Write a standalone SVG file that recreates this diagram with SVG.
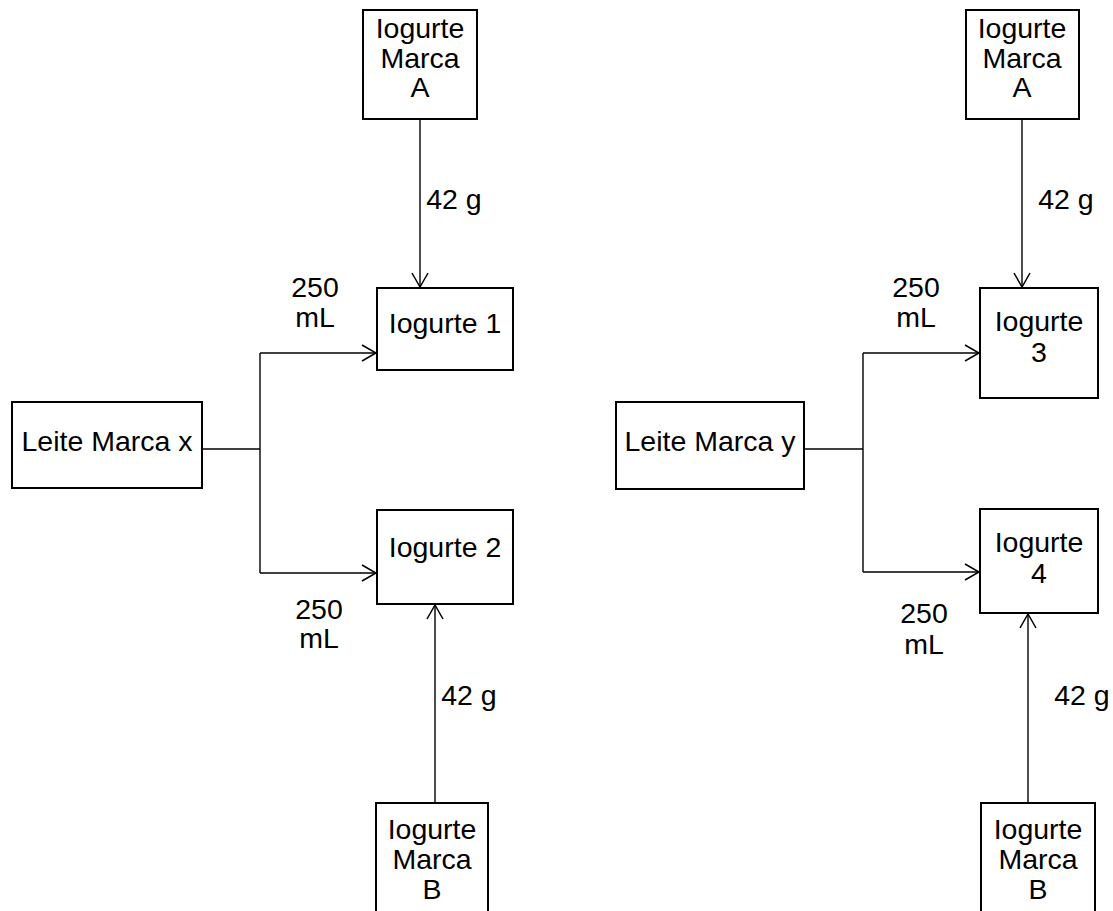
<svg xmlns="http://www.w3.org/2000/svg" width="1113" height="911" viewBox="0 0 1113 911">
<style>
.box{fill:#fff;stroke:#000;stroke-width:2}
.ln{fill:none;stroke:#000;stroke-width:1.4}
text{font-family:"Liberation Sans",Arial,sans-serif;font-size:28.5px;fill:#000;text-anchor:middle}
</style>
<defs>
<marker id="ah" markerUnits="userSpaceOnUse" markerWidth="20" markerHeight="20" viewBox="-16 -10 20 20" refX="0" refY="0" orient="auto">
<path d="M-14,-8 L0,0 L-14,8" fill="none" stroke="#000" stroke-width="1.5"/>
</marker>
</defs>
<rect width="1113" height="911" fill="#fff"/>
<g id="connectors">
<path class="ln" d="M420,119 V287" marker-end="url(#ah)"/>
<path class="ln" d="M202,449 H260"/>
<path class="ln" d="M260,353 V573"/>
<path class="ln" d="M260,353 H376" marker-end="url(#ah)"/>
<path class="ln" d="M260,573 H376" marker-end="url(#ah)"/>
<path class="ln" d="M435,803 V605" marker-end="url(#ah)"/>
<path class="ln" d="M1022,119 V287" marker-end="url(#ah)"/>
<path class="ln" d="M804,449 H863"/>
<path class="ln" d="M863,353 V572"/>
<path class="ln" d="M863,353 H979" marker-end="url(#ah)"/>
<path class="ln" d="M863,572 H979" marker-end="url(#ah)"/>
<path class="ln" d="M1028,803 V614" marker-end="url(#ah)"/>
<text x="454" y="209">42 g</text>
<text x="315" y="297">250</text>
<text x="315" y="327">mL</text>
<text x="319" y="619">250</text>
<text x="319" y="648">mL</text>
<text x="469" y="705">42 g</text>
<text x="1066" y="209">42 g</text>
<text x="916" y="297">250</text>
<text x="916" y="327">mL</text>
<text x="924" y="623">250</text>
<text x="924" y="654">mL</text>
<text x="1082" y="705">42 g</text>
</g>
<g id="iogurte-marca-a-left">
<rect class="box" x="363" y="10" width="114" height="109"/>
<text x="420" y="38">Iogurte</text><text x="420" y="68">Marca</text><text x="420" y="97">A</text>
</g>
<g id="iogurte-1">
<rect class="box" x="377" y="288" width="136" height="82"/>
<text x="445" y="333">Iogurte 1</text>
</g>
<g id="leite-marca-x">
<rect class="box" x="12" y="402" width="190" height="86"/>
<text x="107" y="451">Leite Marca x</text>
</g>
<g id="iogurte-2">
<rect class="box" x="377" y="510" width="136" height="94"/>
<text x="445" y="557">Iogurte 2</text>
</g>
<g id="iogurte-marca-b-left">
<rect class="box" x="376" y="803" width="112" height="120"/>
<text x="432" y="839">Iogurte</text><text x="432" y="869">Marca</text><text x="432" y="899">B</text>
</g>
<g id="iogurte-marca-a-right">
<rect class="box" x="966" y="10" width="113" height="109"/>
<text x="1022" y="38">Iogurte</text><text x="1022" y="68">Marca</text><text x="1022" y="97">A</text>
</g>
<g id="iogurte-3">
<rect class="box" x="980" y="288" width="118" height="110"/>
<text x="1039" y="331">Iogurte</text><text x="1039" y="362">3</text>
</g>
<g id="leite-marca-y">
<rect class="box" x="616" y="402" width="188" height="87"/>
<text x="710" y="451">Leite Marca y</text>
</g>
<g id="iogurte-4">
<rect class="box" x="980" y="509" width="118" height="104"/>
<text x="1039" y="552">Iogurte</text><text x="1039" y="583">4</text>
</g>
<g id="iogurte-marca-b-right">
<rect class="box" x="981" y="803" width="114" height="120"/>
<text x="1038" y="839">Iogurte</text><text x="1038" y="869">Marca</text><text x="1038" y="899">B</text>
</g>
</svg>
